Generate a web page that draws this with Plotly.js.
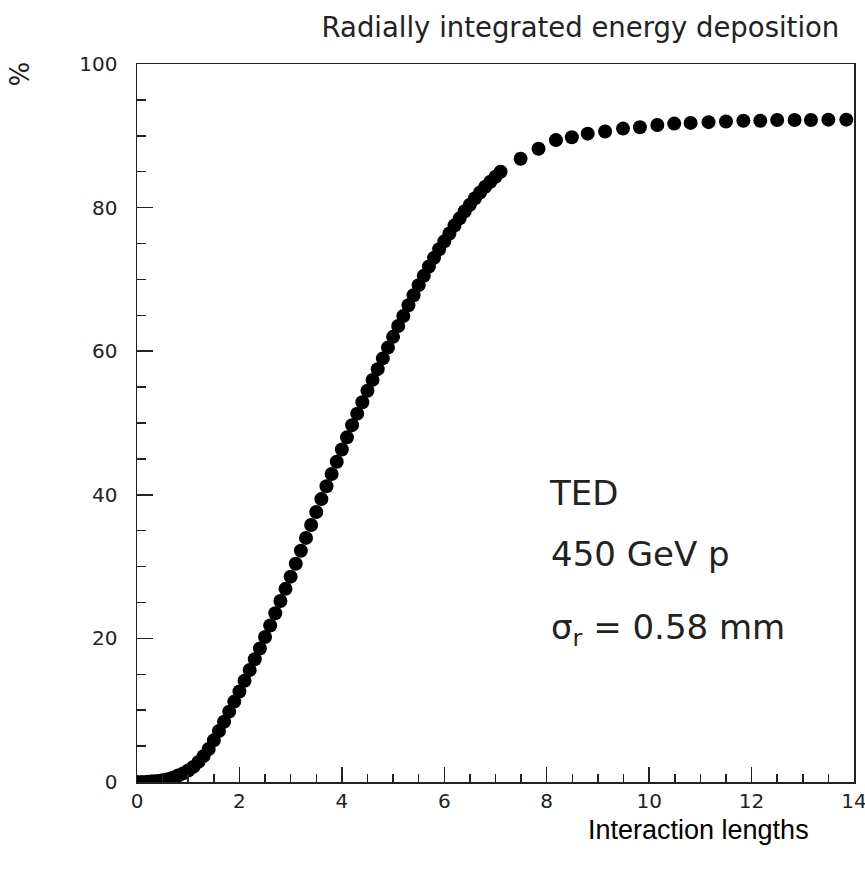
<!DOCTYPE html>
<html>
<head>
<meta charset="utf-8">
<script src="https://cdn.plot.ly/plotly-3.0.1.min.js"></script>
<style>html,body{margin:0;padding:0;background:#fff;}#chart{width:865px;height:872px;}</style>
</head>
<body>
<div id="chart"></div>
<script>
// Dense region (interaction lengths, %)
const xDense = [0.0,0.1,0.2,0.3,0.4,0.5,0.6,0.7,0.8,0.9,
  1.0,1.1,1.2,1.3,1.4,1.5,1.6,1.7,1.8,1.9,
  2.0,2.1,2.2,2.3,2.4,2.5,2.6,2.7,2.8,2.9,
  3.0,3.1,3.2,3.3,3.4,3.5,3.6,3.7,3.8,3.9,
  4.0,4.1,4.2,4.3,4.4,4.5,4.6,4.7,4.8,4.9,
  5.0,5.1,5.2,5.3,5.4,5.5,5.6,5.7,5.8,5.9,
  6.0,6.1,6.2,6.3,6.4,6.5,6.6,6.7,6.8,6.9,
  7.0,7.1];
const yDense = [0.0,0.0,0.05,0.1,0.15,0.25,0.4,0.6,0.9,1.2,
  1.6,2.1,2.8,3.6,4.6,5.8,7.1,8.4,9.8,11.2,
  12.6,14.1,15.6,17.1,18.6,20.2,21.8,23.5,25.2,26.9,
  28.6,30.4,32.2,34.0,35.8,37.6,39.4,41.2,42.9,44.6,
  46.3,48.0,49.7,51.3,52.9,54.5,56.0,57.5,59.0,60.5,
  62.0,63.5,64.9,66.4,67.8,69.2,70.5,71.8,73.0,74.2,
  75.3,76.4,77.5,78.5,79.5,80.4,81.3,82.1,82.9,83.6,
  84.3,85.0];
// Sparse region
const xSparse = [7.49,7.84,8.18,8.49,8.80,9.14,9.49,9.82,10.16,10.49,
  10.81,11.16,11.50,11.84,12.17,12.50,12.84,13.16,13.50,13.85];
const ySparse = [86.8,88.2,89.4,89.8,90.3,90.6,91.0,91.2,91.5,91.7,
  91.8,91.9,92.0,92.1,92.1,92.2,92.2,92.2,92.25,92.25];

const titleText = "Radially integrated energy deposition";
const xTitle = "Interaction lengths";
const yTitle = "%";
const labels = ["TED", "450 GeV p", "σ<sub>r</sub> = 0.58 mm"];
const labelX = [8.0, 8.05, 8.05];
const labelY = [40.2, 31.8, 21.2];

const xs = xDense.concat(xSparse);
const ys = yDense.concat(ySparse);

const axisColor = '#222';
const tickFont = {family: 'DejaVu Sans', size: 20, color: '#222'};

const data = [{
  type: 'scatter', mode: 'markers', x: xs, y: ys,
  marker: {color: '#000', size: 14, line: {width: 0}},
  cliponaxis: true, hoverinfo: 'skip'
}];

const annotations = labels.map((t, i) => ({
  text: t, x: labelX[i], y: labelY[i], xref: 'x', yref: 'y',
  xanchor: 'left', yanchor: 'middle', showarrow: false,
  font: {family: 'DejaVu Sans', size: 34, color: '#222'}
}));
annotations.push({
  text: xTitle, xref: 'paper', yref: 'paper', x: 0.783, y: -0.0665,
  xanchor: 'center', yanchor: 'middle', showarrow: false,
  font: {family: 'Liberation Sans, Arial', size: 27, color: '#000'}
});
annotations.push({
  text: yTitle, xref: 'paper', yref: 'paper', x: -0.166, y: 0.985,
  xanchor: 'center', yanchor: 'middle', showarrow: false, textangle: 90,
  font: {family: 'DejaVu Sans', size: 26, color: '#222'}
});

const layout = {
  width: 865, height: 872,
  margin: {l: 137, r: 11, t: 64, b: 90},
  paper_bgcolor: '#fff', plot_bgcolor: '#fff',
  showlegend: false,
  title: {
    text: titleText, xref: 'container', yref: 'container',
    x: 0.671, y: 0.969, xanchor: 'center', yanchor: 'middle',
    font: {family: 'DejaVu Sans', size: 27.5, color: '#222'}
  },
  xaxis: {
    range: [0, 14], dtick: 2, tick0: 0, ticks: 'inside', ticklen: 15, tickwidth: 1.5, tickcolor: axisColor,
    minor: {dtick: 0.5, ticks: 'inside', ticklen: 8, tickwidth: 1.5, tickcolor: axisColor, showgrid: false},
    showline: true, linecolor: axisColor, linewidth: 1.5, mirror: true,
    showgrid: false, zeroline: false, tickfont: tickFont, ticklabeloverflow: 'allow', fixedrange: true
  },
  yaxis: {
    range: [0, 100], dtick: 20, tick0: 0, ticks: 'inside', ticklen: 16, tickwidth: 1.5, tickcolor: axisColor,
    minor: {dtick: 5, ticks: 'inside', ticklen: 9, tickwidth: 1.5, tickcolor: axisColor, showgrid: false},
    showline: true, linecolor: axisColor, linewidth: 1.5, mirror: true,
    showgrid: false, zeroline: false, tickfont: tickFont, ticklabelstandoff: 14, ticklabeloverflow: 'allow', fixedrange: true
  },
  annotations: annotations
};

Plotly.newPlot('chart', data, layout, {displayModeBar: false, staticPlot: true});
</script>
</body>
</html>
